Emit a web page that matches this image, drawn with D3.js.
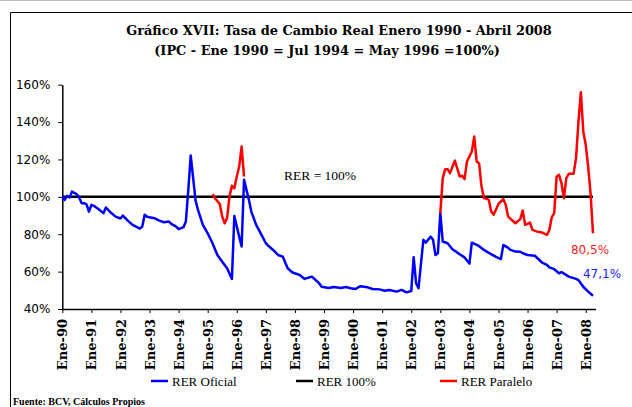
<!DOCTYPE html>
<html><head><meta charset="utf-8">
<script src="https://cdn.jsdelivr.net/npm/d3@7"></script>
<style>body{margin:0;background:#fff}svg{display:block}</style>
</head><body>
<svg id="c" width="632" height="407"></svg>
<script>
// ---- DATA ----
const titulo1 = "Gráfico XVII: Tasa de Cambio Real Enero 1990 - Abril 2008";
const titulo2 = "(IPC - Ene 1990 = Jul 1994 = May 1996 =100%)";
const fuente = "Fuente: BCV, Cálculos Propios";
const seriesNombres = ["RER Oficial", "RER 100%", "RER Paralelo"];
const yTicks = [40, 60, 80, 100, 120, 140, 160];
const xTickFechas = ["1990-01","1991-01","1992-01","1993-01","1994-01","1995-01","1996-01","1997-01","1998-01","1999-01","2000-01","2001-01","2002-01","2003-01","2004-01","2005-01","2006-01","2007-01","2008-01"];
const xTickEtiquetas = ["Ene-90","Ene-91","Ene-92","Ene-93","Ene-94","Ene-95","Ene-96","Ene-97","Ene-98","Ene-99","Ene-00","Ene-01","Ene-02","Ene-03","Ene-04","Ene-05","Ene-06","Ene-07","Ene-08"];

const oficialFechas = ["1990-01","1990-02","1990-03","1990-04","1990-05","1990-07","1990-08","1990-09","1990-10","1990-11","1990-12",
"1991-01","1991-02","1991-04","1991-06","1991-07","1991-09","1991-11",
"1992-01","1992-02","1992-04","1992-06","1992-09","1992-10","1992-11","1992-12",
"1993-03","1993-05","1993-07","1993-09","1993-10","1993-12",
"1994-01","1994-03","1994-04","1994-05","1994-06","1994-08","1994-09","1994-11",
"1995-01","1995-03","1995-05","1995-07","1995-09","1995-11","1995-12",
"1996-02","1996-03","1996-04","1996-06","1996-07","1996-09","1996-11",
"1997-01","1997-02","1997-04","1997-06","1997-08","1997-10","1997-12",
"1998-03","1998-05","1998-08","1998-11","1998-12",
"1999-03","1999-05","1999-08","1999-10","1999-12",
"2000-02","2000-04","2000-07","2000-09","2000-12",
"2001-02","2001-04","2001-07","2001-09","2001-11",
"2002-01","2002-02","2002-03","2002-04","2002-06","2002-07","2002-09","2002-10","2002-11","2002-12",
"2003-01","2003-02","2003-04","2003-06","2003-09","2003-11",
"2004-01","2004-02","2004-04","2004-05","2004-07","2004-09","2004-12",
"2005-02","2005-03","2005-05","2005-06","2005-08","2005-10","2005-11",
"2006-01","2006-04","2006-05","2006-07","2006-09","2006-10","2006-12",
"2007-02","2007-03","2007-06","2007-09","2007-10","2007-12",
"2008-02","2008-04"];
const oficialValores = [100,98.4,100.5,99.7,102.8,101.4,99.5,96.6,96.6,96,92.1,
95.7,95.2,93.4,91.3,94.3,91.6,89.4,
88.4,90,87.3,85,83,84.1,90.4,89.4,
88.6,87.3,86.4,86.8,85.5,84.1,
82.7,83.8,86.8,103.8,122.1,98,93,85,
80.5,75.2,68.9,65.3,61.8,56.1,89.8,
78.7,73.4,109.1,98.4,92.1,85,80.2,
75.2,73.8,71.6,68.9,68,61.8,59.5,
58.2,56.1,57.3,53.8,51.9,
51.2,51.8,51.2,51.8,51.1,
50.7,52.2,51.6,50.7,50.5,
49.8,50.2,49.3,50.2,48.9,
49.6,67.7,53.8,51.1,77,75.5,78.7,77,68.9,69.8,
91.3,76.1,75.2,72,69.3,67.6,
64.3,75.5,74.3,73.6,71.6,70,67.9,
66.7,74.3,72.7,71.6,70.7,70.6,69.8,
68.9,68.5,67.3,64.8,63.6,62.3,61.3,
59.1,59.8,57.3,56.1,55.5,51.9,
49.3,47.1];

const paralelo1Fechas = ["1995-03","1995-04","1995-06","1995-07","1995-08","1995-09","1995-10","1995-11","1995-12","1996-01","1996-02","1996-03","1996-04"];
const paralelo1Valores = [101.4,99.3,96.2,89.4,85.9,88.6,100.2,105.9,104.6,110.9,116.2,126.9,110.9];

const paralelo2Fechas = ["2003-01","2003-02","2003-03","2003-04","2003-05","2003-07","2003-09","2003-10","2003-11","2003-12",
"2004-02","2004-03","2004-04","2004-05","2004-06","2004-07","2004-09","2004-10","2004-11",
"2005-01","2005-03","2005-04","2005-05","2005-08","2005-10","2005-11","2005-12",
"2006-02","2006-03","2006-05","2006-07","2006-09","2006-10","2006-11","2006-12",
"2007-01","2007-02","2007-03","2007-04","2007-05","2007-06","2007-08","2007-09","2007-10","2007-11","2007-12",
"2008-01","2008-02","2008-03","2008-04"];
const paralelo2Valores = [91.3,110,114.8,114.8,112.7,119.4,110.9,111.3,109.5,118.9,
124.3,132.3,118.9,118,105.5,99.3,98.5,92.1,90.4,
96.2,98.8,95.7,89.4,85.9,88.1,92.7,85,
86.2,82.3,81.4,80.9,79.6,82.3,89.1,91.3,
110.9,111.8,107.3,99.3,110,112.3,112.3,120.7,140,155.9,135,
127.9,116.2,102,80.5];

const base100Fechas = ["1990-01","2008-04"];
const base100Valores = [100,100];

const anotaciones = [{texto:"80,5%", serie:"paralelo"},{texto:"47,1%", serie:"oficial"}];
const textoBase = "RER = 100%";

// ---- DRAW ----
const mes = s => { const [a,m] = s.split("-").map(Number); return (a-1990)*12 + (m-1); };
const zip = (f,v) => f.map((d,i)=>({m:mes(d), v:v[i]}));

const svg = d3.select("#c");
const x = d3.scaleLinear().domain([0,220]).range([62.3,595.4]);
const y = d3.scaleLinear().domain([40,160]).range([309,84.7]);

// frame
svg.append("line").attr("x1",0).attr("x2",632).attr("y1",0.5).attr("y2",0.5).attr("stroke","#bbb").attr("stroke-width",1);
svg.append("path").attr("d","M10.5,407 V12.5 H632").attr("fill","none").attr("stroke","#000").attr("stroke-width",1);

const serifB = "'DejaVu Serif', serif";
svg.append("text").attr("x",339).attr("y",35).attr("text-anchor","middle")
  .style("font-family",serifB).style("font-weight","bold").style("font-size","12.9px").text(titulo1);
svg.append("text").attr("x",327).attr("y",55).attr("text-anchor","middle")
  .style("font-family",serifB).style("font-weight","bold").style("font-size","12.9px").text(titulo2);

// axes
const yAxis = d3.axisLeft(y).tickValues(yTicks).tickFormat(d=>d+"%").tickSize(4).tickSizeOuter(0).tickPadding(8);
const gy = svg.append("g").attr("transform",`translate(${x(0)},0)`).call(yAxis);
gy.selectAll("text").style("font-family","'DejaVu Sans', Verdana, sans-serif").style("font-size","12px").attr("fill","#000");
gy.select(".domain").attr("stroke-width",1.5);

const xAxis = d3.axisBottom(x).tickValues(xTickFechas.map(mes)).tickFormat((d,i)=>xTickEtiquetas[i]).tickSize(4).tickSizeOuter(0);
const gx = svg.append("g").attr("transform",`translate(0,${y(40)})`).call(xAxis);
gx.select(".domain").attr("stroke-width",1.5);
gx.selectAll("text").attr("transform","rotate(-90)").attr("x",-10).attr("y",0).attr("dy","0.35em")
  .style("text-anchor","end").style("font-family",serifB).style("font-weight","bold").style("font-size","13px").attr("fill","#000");

// lines
const line = d3.line().x(d=>x(d.m)).y(d=>y(d.v));
svg.append("path").datum(zip(base100Fechas,base100Valores)).attr("d",line).attr("fill","none").attr("stroke","#000").attr("stroke-width",2.5);
svg.append("path").datum(zip(oficialFechas,oficialValores)).attr("d",line).attr("fill","none").attr("stroke","#0000ff").attr("stroke-width",2.5).attr("stroke-linejoin","round");
svg.append("path").datum(zip(paralelo1Fechas,paralelo1Valores)).attr("d",line).attr("fill","none").attr("stroke","#ff0000").attr("stroke-width",2.5).attr("stroke-linejoin","round");
svg.append("path").datum(zip(paralelo2Fechas,paralelo2Valores)).attr("d",line).attr("fill","none").attr("stroke","#ff0000").attr("stroke-width",2.5).attr("stroke-linejoin","round");

// labels
const serif = "'Liberation Serif', 'Times New Roman', serif";
svg.append("text").attr("x",284).attr("y",180).style("font-family",serif).style("font-size","13.5px").text(textoBase);
const lastP = paralelo2Valores[paralelo2Valores.length-1], lastO = oficialValores[oficialValores.length-1];
const mEnd = mes(oficialFechas[oficialFechas.length-1]);
svg.append("text").attr("x",x(mEnd)-3).attr("y",y(lastP)+21).attr("text-anchor","middle")
  .style("font-family","'DejaVu Sans', sans-serif").style("font-size","12px").attr("fill","#ff1a1a").text(anotaciones[0].texto);
svg.append("text").attr("x",x(mEnd)+9).attr("y",y(lastO)-18).attr("text-anchor","middle")
  .style("font-family","'DejaVu Sans', sans-serif").style("font-size","12px").attr("fill","#1a1aff").text(anotaciones[1].texto);

// legend
const leg = [{c:"#0000ff",x:151},{c:"#000",x:296},{c:"#ff0000",x:440}];
leg.forEach((l,i)=>{
  svg.append("line").attr("x1",l.x).attr("x2",l.x+17).attr("y1",381).attr("y2",381).attr("stroke",l.c).attr("stroke-width",2.5);
  svg.append("text").attr("x",l.x+21).attr("y",386).style("font-family",serif).style("font-size","13px").text(seriesNombres[i]);
});
svg.append("text").attr("x",13).attr("y",405).style("font-family",serif).style("font-weight","bold").style("font-size","10px").text(fuente);
</script>
</body></html>
